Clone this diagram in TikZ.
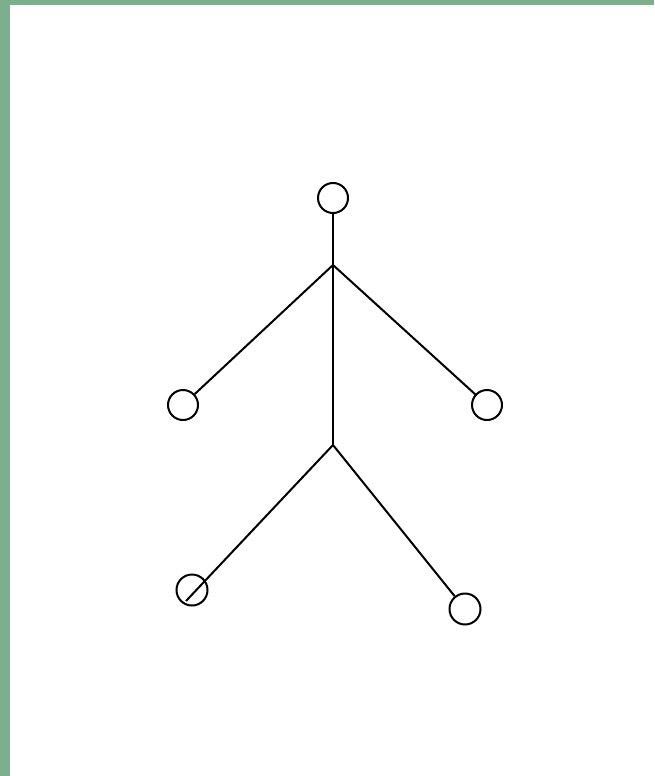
\documentclass[tikz,border=0pt]{standalone}
\definecolor{framegreen}{RGB}{126,175,140}
\tikzset{
  joint/.style={circle, draw=black, line width=2pt, minimum size=30pt, inner sep=0pt},
  limb/.style={draw=black, line width=2pt},
}
\begin{document}
\begin{tikzpicture}[x=1pt,y=-1pt]
\useasboundingbox (0,0) rectangle (654,776);
\fill[white] (0,0) rectangle (654,776);
\fill[framegreen] (0,0) rectangle (654,5);
\fill[framegreen] (0,0) rectangle (10,776);
% joints
\node[joint] (head) at (333,198) {};
\node[joint] (larm) at (183,405) {};
\node[joint] (rarm) at (487,405) {};
\node[joint, minimum size=31pt] (lleg) at (192,590) {};
\node[joint, minimum size=31pt] (rleg) at (465,609) {};
\coordinate (neck) at (333,265);
\coordinate (hip) at (333,445);
\coordinate (lfoot) at (186,601);
% limbs
\draw[limb] (head) -- (neck) -- (hip);
\draw[limb] (neck) -- (larm);
\draw[limb] (neck) -- (rarm);
\draw[limb] (hip) -- (lfoot);
\draw[limb] (hip) -- (rleg);
\end{tikzpicture}
\end{document}
